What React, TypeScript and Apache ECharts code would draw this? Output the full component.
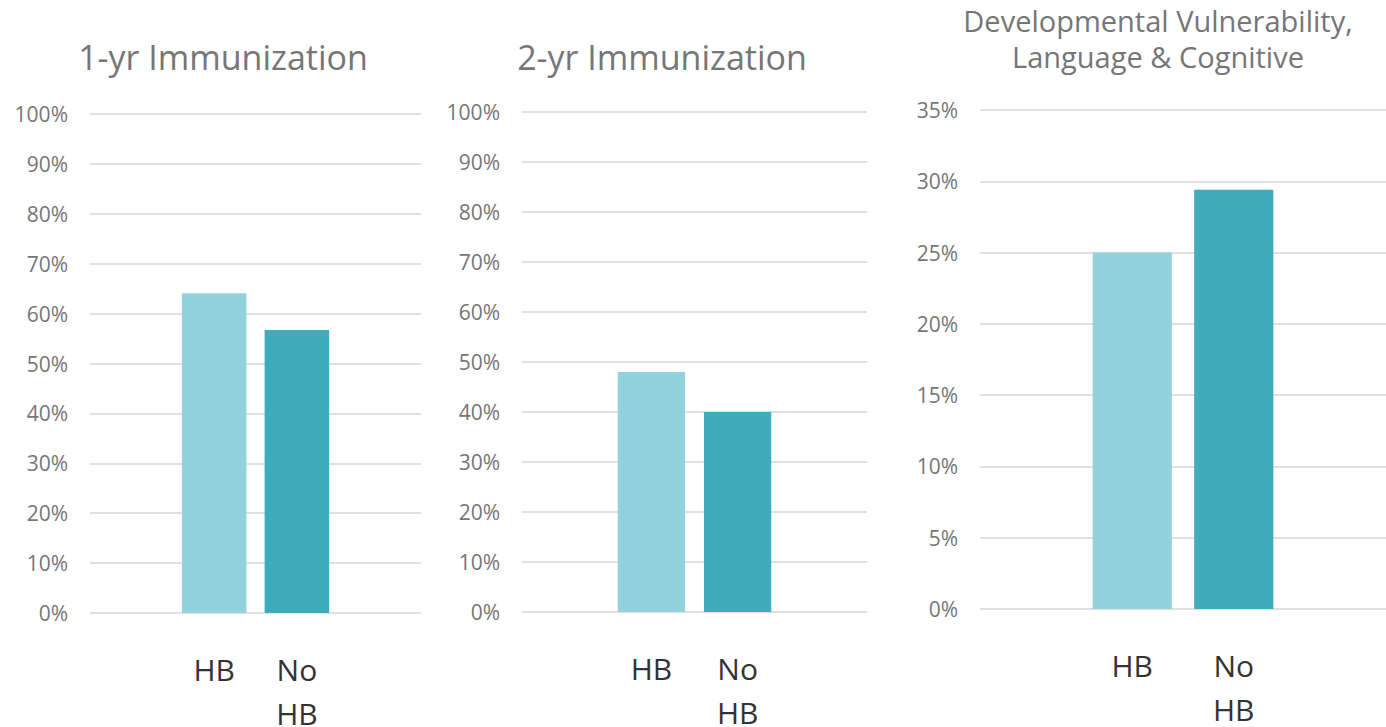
import React, { useEffect, useRef } from "react";
import * as echarts from "echarts";

const groups = ["HB", "No\nHB"];
const imm1Values = [64.1, 56.7];
const imm2Values = [48, 40];
const devValues = [25, 29.4];
const titles = ["1-yr Immunization", "2-yr Immunization", "Developmental Vulnerability,\nLanguage & Cognitive"];
const yMax = [100, 100, 35];
const yInterval = [10, 10, 5];
const colors = ["#92D2DD", "#3FACBC"];

const FONT = "'Open Sans', 'Noto Sans', sans-serif";

export default function App() {
  const ref = useRef<HTMLDivElement>(null);
  useEffect(() => {
    if (!ref.current) return;
    const chart = echarts.init(ref.current, undefined, { renderer: "svg" });
    const axisData = ["", ...groups, ""];
    const grids = [
      { left: 90, top: 114, width: 331, height: 499 },
      { left: 522, top: 112, width: 345, height: 500 },
      { left: 980, top: 110, width: 406, height: 499 },
    ];
    const values = [imm1Values, imm2Values, devValues];
    const titleCenters = [218, 657, 1153];
    const titleTops = [34, 34, -3];
    const titleSizes = [34, 34, 29];
    chart.setOption({
      animation: false,
      title: titles.map((t, i) => ({
        text: t,
        left: titleCenters[i],
        top: titleTops[i],
        textAlign: "center",
        textStyle: {
          fontFamily: FONT,
          fontWeight: "normal",
          fontSize: titleSizes[i],
          lineHeight: 36,
          color: "#767676",
        },
      })),
      grid: grids.map((g) => ({ ...g, containLabel: false, outerBoundsMode: "none" })),
      xAxis: grids.map((_, i) => ({
        type: "category",
        gridIndex: i,
        data: axisData,
        axisLine: { show: false },
        axisTick: { show: false },
        axisLabel: {
          interval: 0,
          margin: 34,
          fontFamily: FONT,
          fontSize: 30,
          lineHeight: 44,
          color: "#333333",
          verticalAlign: "top",
        },
      })),
      yAxis: grids.map((_, i) => ({
        type: "value",
        gridIndex: i,
        min: 0,
        max: yMax[i],
        interval: yInterval[i],
        axisLine: { show: false },
        axisTick: { show: false },
        splitLine: { lineStyle: { color: "#E0E0E0", width: 2 } },
        axisLabel: {
          formatter: "{value}%",
          margin: 22,
          fontFamily: FONT,
          fontSize: 21,
          color: "#767676",
        },
      })),
      series: values.map((vals, i) => ({
        type: "bar",
        xAxisIndex: i,
        yAxisIndex: i,
        barWidth: "78%",
        data: ["-", ...vals.map((v, j) => ({ value: v, itemStyle: { color: colors[j] } })), "-"],
      })),
    });
    return () => chart.dispose();
  }, []);
  return (
    <div
      ref={ref}
      style={{ position: "absolute", left: 0, top: 0, width: 1386, height: 727, background: "#fff" }}
    />
  );
}
